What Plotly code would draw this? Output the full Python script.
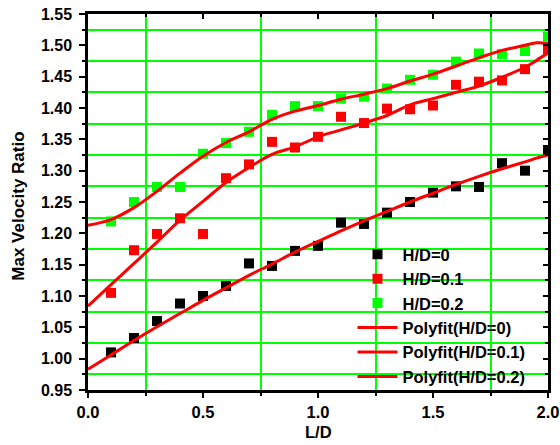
import plotly.graph_objects as go

# ---- data ----
ld = [0.1, 0.2, 0.3, 0.4, 0.5, 0.6, 0.7, 0.8, 0.9, 1.0,
      1.1, 1.2, 1.3, 1.4, 1.5, 1.6, 1.7, 1.8, 1.9, 2.0]
hd0 = [1.010, 1.033, 1.060, 1.088, 1.100, 1.116, 1.152, 1.148, 1.172, 1.180,
       1.217, 1.215, 1.233, 1.250, 1.265, 1.275, 1.274, 1.312, 1.300, 1.333]
hd01 = [1.105, 1.173, 1.199, 1.224, 1.199, 1.288, 1.310, 1.346, 1.337, 1.354,
        1.386, 1.376, 1.399, 1.398, 1.404, 1.437, 1.442, 1.444, 1.462, 1.493]
hd02 = [1.219, 1.250, 1.274, 1.274, 1.327, 1.344, 1.362, 1.389, 1.403, 1.403,
        1.415, 1.418, 1.431, 1.445, 1.453, 1.474, 1.487, 1.486, 1.491, 1.514]

# fitted curves
fit_x = [0.0, 0.1, 0.2, 0.3, 0.4, 0.5, 0.6, 0.7, 0.8, 0.9, 1.0,
         1.1, 1.2, 1.3, 1.4, 1.5, 1.6, 1.7, 1.8, 1.9, 1.95, 2.0]
fit0 = [0.983, 1.006, 1.029, 1.051, 1.072, 1.093, 1.113, 1.133, 1.151, 1.170, 1.187,
        1.204, 1.220, 1.235, 1.250, 1.264, 1.278, 1.291, 1.303, 1.314, 1.320, 1.325]
fit01 = [1.084, 1.118, 1.152, 1.186, 1.221, 1.251, 1.281, 1.305, 1.326, 1.338, 1.354,
         1.365, 1.376, 1.388, 1.405, 1.415, 1.425, 1.435, 1.449, 1.465, 1.476, 1.488]
fit02 = [1.213, 1.222, 1.241, 1.267, 1.296, 1.323, 1.345, 1.362, 1.382, 1.395, 1.404,
         1.414, 1.422, 1.431, 1.443, 1.454, 1.467, 1.480, 1.492, 1.500, 1.504, 1.503]

x_ticks = [0.0, 0.5, 1.0, 1.5, 2.0]
x_labels = ["0.0", "0.5", "1.0", "1.5", "2.0"]
x_minor = [0.25, 0.75, 1.25, 1.75]
y_ticks = [0.95, 1.00, 1.05, 1.10, 1.15, 1.20, 1.25, 1.30, 1.35, 1.40, 1.45, 1.50, 1.55]
y_labels = ["0.95", "1.00", "1.05", "1.10", "1.15", "1.20", "1.25", "1.30",
            "1.35", "1.40", "1.45", "1.50", "1.55"]
y_minor = [0.975, 1.025, 1.075, 1.125, 1.175, 1.225, 1.275, 1.325,
           1.375, 1.425, 1.475, 1.525]

FONT = "Arial, Liberation Sans, sans-serif"
GREEN = "#00FF00"

fig = go.Figure()
for name, ys, col in [("H/D=0", hd0, "#000000"), ("H/D=0.1", hd01, "#FF0000"),
                      ("H/D=0.2", hd02, GREEN)]:
    fig.add_trace(go.Scatter(x=ld, y=ys, mode="markers", name=name,
                             marker=dict(symbol="square", size=10, color=col)))
for name, ys in [("Polyfit(H/D=0)", fit0), ("Polyfit(H/D=0.1)", fit01),
                 ("Polyfit(H/D=0.2)", fit02)]:
    fig.add_trace(go.Scatter(x=fit_x, y=ys, mode="lines", name=name,
                             line=dict(color="#FF0000", width=3, shape="spline")))

line_common = dict(showline=True, linecolor="black", linewidth=2.5, automargin=False,
                   tickcolor="black", tickwidth=2, showgrid=False, zeroline=False)

fig.update_layout(
    width=560, height=445,
    margin=dict(l=88, r=12, t=14, b=55, autoexpand=False),
    paper_bgcolor="white", plot_bgcolor="white",
    font=dict(family=FONT, color="black"),
    xaxis=dict(range=[0, 2.0], tickmode="array", tickvals=x_ticks, ticktext=x_labels,
               ticks="outside", ticklen=5, ticklabelstandoff=0,
               minor=dict(tickmode="array", tickvals=x_minor, ticks="outside", ticklen=3,
                          tickcolor="black", tickwidth=2,
                          showgrid=True, gridcolor=GREEN, gridwidth=1.6),
               tickfont=dict(family=FONT, size=16.5, color="black", weight="bold"),
               **line_common),
    yaxis=dict(range=[0.95, 1.55], tickmode="array", tickvals=y_ticks, ticktext=y_labels,
               ticks="outside", ticklen=6, ticklabelstandoff=4,
               minor=dict(tickmode="array", tickvals=y_minor, ticks="outside", ticklen=3,
                          tickcolor="black", tickwidth=2,
                          showgrid=True, gridcolor=GREEN, gridwidth=1.6),
               tickfont=dict(family=FONT, size=16, color="black", weight="bold"),
               **line_common),
    xaxis2=dict(overlaying="x", side="top", range=[0, 2.0], tickmode="array",
                tickvals=x_ticks, showticklabels=False, ticks="inside", ticklen=5,
                minor=dict(tickmode="array", tickvals=x_minor, ticks="inside", ticklen=3,
                           tickcolor="black", tickwidth=2, showgrid=False),
                **line_common),
    yaxis2=dict(overlaying="y", side="right", range=[0.95, 1.55], tickmode="array",
                tickvals=y_ticks, showticklabels=False, ticks="inside", ticklen=5,
                minor=dict(tickmode="array", tickvals=y_minor, ticks="inside", ticklen=3,
                           tickcolor="black", tickwidth=2, showgrid=False),
                **line_common),
    legend=dict(x=0.575, xanchor="left", y=0.407, yanchor="top", itemwidth=40,
                bgcolor="rgba(0,0,0,0)", borderwidth=0, tracegroupgap=0,
                font=dict(family=FONT, size=16.5, color="black", weight="bold")),
    showlegend=True,
    annotations=[
        dict(text="L/D", xref="paper", yref="paper", x=0.5, y=-0.113,
             xanchor="center", yanchor="middle", showarrow=False,
             font=dict(family=FONT, size=16.5, color="black", weight="bold")),
        dict(text="Max Velocity Ratio", xref="paper", yref="paper", x=-0.15, y=0.4875,
             xanchor="center", yanchor="middle", showarrow=False, textangle=-90,
             font=dict(family=FONT, size=17, color="black", weight="bold")),
    ],
)
# invisible trace so the overlay axes are drawn
fig.add_trace(go.Scatter(x=[None], y=[None], xaxis="x2", yaxis="y2",
                         showlegend=False, hoverinfo="skip"))

fig.write_html("out.html", config={"displayModeBar": False},
               post_script="document.body.style.margin='0';"
                           "document.body.style.overflow='hidden';")
